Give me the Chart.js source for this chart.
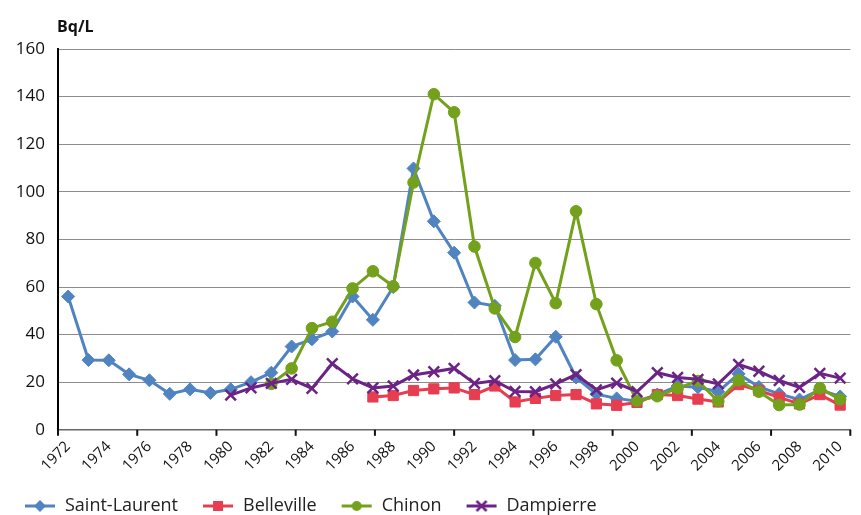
<!DOCTYPE html>
<html><head><meta charset="utf-8">
<script src="https://cdn.jsdelivr.net/npm/chart.js@4"></script>
<style>html,body{margin:0;padding:0;background:#fff}</style>
</head><body>
<canvas id="c" width="861" height="515" style="width:861px;height:515px;display:block"></canvas>
<script>
const years = ['1972','1973','1974','1975','1976','1977','1978','1979','1980','1981','1982','1983','1984','1985','1986','1987','1988','1989','1990','1991','1992','1993','1994','1995','1996','1997','1998','1999','2000','2001','2002','2003','2004','2005','2006','2007','2008','2009','2010'];
const unitLabel = 'Bq/L';
const yTicks = [0,20,40,60,80,100,120,140,160];
const saintLaurent = [56,29.3,29.2,23.3,20.8,15.1,17,15.5,17,20,24,35,38,41.3,56,46.2,60,109.8,87.6,74.4,53.5,52.1,29.3,29.6,39.1,22,15,13.2,12,14.8,18.4,17.9,16,23.5,18,15.1,12.7,16.8,14];
const belleville = [null,null,null,null,null,null,null,null,null,null,null,null,null,null,null,13.8,14.4,16.5,17.2,17.6,14.8,18.4,11.7,13.2,14.4,14.8,10.9,10.3,11.5,14.8,14.4,12.9,11.7,19,16.5,13.6,10.9,14.8,10.4];
const chinon = [null,null,null,null,null,null,null,null,null,null,19.3,25.8,42.7,45.4,59.4,66.6,60.3,103.9,141,133.4,77,51,39,70.1,53.2,91.8,52.8,29.2,12.2,14.1,17.5,20.5,12,20.8,16,10.4,10.6,17.5,12.8];
const dampierre = [null,null,null,null,null,null,null,null,14.6,17.6,19.5,21.2,17.4,27.8,21.4,17.6,18.4,23,24.4,25.8,19.5,20.6,16.1,16,19.3,23.2,16.8,19.6,16,24,22,21.2,19.3,27.5,24.6,20.7,17.8,23.7,21.7];
const seriesNames = ['Saint-Laurent','Belleville','Chinon','Dampierre'];

const colors = ['#4f84c0','#e63d50','#74a11c','#6b2486'];
const styles = ['rectRot','rect','circle','crossRot'];
const radii = [6.5,7.2,5.8,7.5];
const FONT = '"Open Sans", "DejaVu Sans", sans-serif';

function legendIcon(i){
  const c = document.createElement('canvas');
  c.width = 32; c.height = 16;
  const g = c.getContext('2d');
  const cx = 16, cy = 8;
  g.strokeStyle = colors[i]; g.fillStyle = colors[i]; g.lineWidth = 3;
  g.beginPath(); g.moveTo(1,cy); g.lineTo(31,cy); g.stroke();
  g.beginPath();
  if (i===0){ g.moveTo(cx,cy-6); g.lineTo(cx+6,cy); g.lineTo(cx,cy+6); g.lineTo(cx-6,cy); g.closePath(); g.fill(); }
  else if (i===1){ g.fillRect(cx-5,cy-5,10,10); }
  else if (i===2){ g.arc(cx,cy,5,0,Math.PI*2); g.fill(); }
  else { g.lineWidth=2.5; g.moveTo(cx-5,cy-5); g.lineTo(cx+5,cy+5); g.moveTo(cx+5,cy-5); g.lineTo(cx-5,cy+5); g.stroke(); }
  return c;
}
const icons = [0,1,2,3].map(legendIcon);

function ds(i, data){
  return {
    label: seriesNames[i], data, order: 4-i,
    borderColor: colors[i], backgroundColor: colors[i],
    pointBackgroundColor: colors[i], pointBorderColor: colors[i],
    pointStyle: styles[i], pointRadius: radii[i], pointHoverRadius: radii[i],
    pointBorderWidth: i===3 ? 2.5 : 1,
    borderWidth: 3, tension: 0, spanGaps: false, fill: false
  };
}

const extras = {
  id: 'extras',
  afterDraw(chart){
    const {ctx, chartArea: a} = chart;
    ctx.save();
    ctx.font = 'bold 16px ' + FONT;
    ctx.fillStyle = '#111';
    ctx.textBaseline = 'alphabetic';
    ctx.textAlign = 'left';
    ctx.fillText(unitLabel, a.left - 1, a.top - 17);
    ctx.strokeStyle = '#111'; ctx.lineWidth = 2;
    const n = 10;
    for (let i = 0; i <= n; i++){
      const x = a.left + (a.right - a.left) * i / n;
      ctx.beginPath(); ctx.moveTo(x, a.bottom); ctx.lineTo(x, a.bottom + 6); ctx.stroke();
    }
    ctx.restore();
  }
};

new Chart(document.getElementById('c'), {
  type: 'line',
  data: { labels: years, datasets: [ds(0,saintLaurent), ds(1,belleville), ds(2,chinon), ds(3,dampierre)] },
  options: {
    responsive: false, animation: false, devicePixelRatio: 1,
    layout: { padding: { top: 49, left: 0, right: 6, bottom: -10 } },
    plugins: {
      tooltip: { enabled: false },
      title: { display: false },
      legend: {
        position: 'bottom', align: 'start',
        labels: {
          usePointStyle: true, pointStyleWidth: 32, boxHeight: 16, padding: 24,
          color: '#222', font: { family: FONT, size: 18 },
          sort: (a, b) => a.datasetIndex - b.datasetIndex,
          generateLabels(chart){
            const items = Chart.defaults.plugins.legend.labels.generateLabels(chart);
            items.forEach(it => { it.pointStyle = icons[it.datasetIndex]; });
            return items;
          }
        }
      }
    },
    scales: {
      x: {
        type: 'category', offset: true,
        grid: { display: true, drawOnChartArea: false, drawTicks: false },
        border: { display: true, color: '#666', width: 1.5 },
        ticks: {
          autoSkip: false, maxRotation: 45, minRotation: 45, padding: 8,
          color: '#111', font: { family: FONT, size: 15 },
          callback: (v, i) => (i % 2 === 0 ? years[i] : '')
        },
        afterFit: s => { s.height = 43.2; }
      },
      y: {
        min: 0, max: 160,
        afterBuildTicks: s => { s.ticks = yTicks.map(v => ({ value: v })); },
        grid: { color: '#8c8c8c', lineWidth: 1, drawTicks: false },
        border: { display: true, color: '#000', width: 2 },
        ticks: { padding: 13, color: '#111', font: { family: FONT, size: 17 } },
        afterFit: s => { s.width = 58; }
      }
    }
  },
  plugins: [extras]
});
</script>
</body></html>
